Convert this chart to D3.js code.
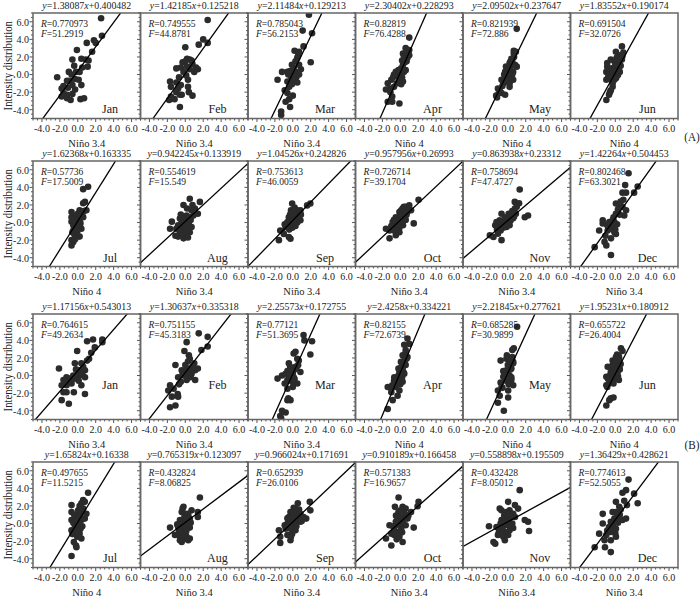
<!DOCTYPE html>
<html><head><meta charset="utf-8">
<script src="https://cdn.jsdelivr.net/npm/d3@7"></script>
<style>body{margin:0;background:#fff}svg{display:block}</style>
</head><body>
<script>
const months = ["Jan","Feb","Mar","Apr","May","Jun","Jul","Aug","Sep","Oct","Nov","Dec"];
const xLabelsA = ["Niño 3.4","Niño 3.4","Niño 3.4","Niño 4","Niño 4","Niño 4","Niño 4","Niño 3.4","Niño 3.4","Niño 3.4","Niño 3.4","Niño 3.4"];
const xLabelsB = ["Niño 3.4","Niño 3.4","Niño 3.4","Niño 4","Niño 4","Niño 4","Niño 4","Niño 3.4","Niño 3.4","Niño 3.4","Niño 3.4","Niño 3.4"];
const slopeA = ["1.38087","1.42185","2.11484","2.30402","2.09502","1.83552","1.62368","0.942245","1.04526","0.957956","0.863938","1.42264"];
const interA = ["0.400482","0.125218","0.129213","0.228293","0.237647","0.190174","0.163335","0.133919","0.242826","0.26993","0.23312","0.504453"];
const rA = ["0.770973","0.749555","0.785043","0.82819","0.821939","0.691504","0.57736","0.554619","0.753613","0.726714","0.758694","0.802468"];
const fA = ["51.2919","44.8781","56.2153","76.4288","72.886","32.0726","17.5009","15.549","46.0059","39.1704","47.4727","63.3021"];
const slopeB = ["1.17156","1.30637","2.25573","2.4258","2.21845","1.95231","1.65824","0.765319","0.966024","0.910189","0.558898","1.36429"];
const interB = ["0.543013","0.335318","0.172755","0.334221","0.277621","0.180912","0.16338","0.123097","0.171691","0.166458","0.195509","0.428621"];
const rB = ["0.764615","0.751155","0.77121","0.82155","0.685285","0.655722","0.497655","0.432824","0.652939","0.571383","0.432428","0.774613"];
const fB = ["49.2634","45.3183","51.3695","72.6739","30.9899","26.4004","11.5215","8.06825","26.0106","16.9657","8.05012","52.5055"];
const xTicks = [-4,-2,0,2,4,6];
const yTicks = [-4,-2,0,2,4,6];

const pointsA = [
 [[2.6,6.4],[2.7,4.4],[1.8,3.9],[2.0,3.6],[1.0,3.6],[1.6,2.6],[-0.1,2.8],[0.4,1.8],[0.9,1.7],[1.2,1.6],[-0.6,1.7],[-0.4,1.0],[1.1,0.9],[0.5,0.8],[0.2,0.3],[-0.2,0.3],[-1.0,0.3],[-0.7,0.0],[-2.3,-0.3],[-1.2,-0.7],[-0.9,-0.7],[-0.3,-0.5],[0.1,-0.6],[-0.6,-1.2],[-1.6,-1.3],[-1.8,-1.6],[-1.1,-1.5],[-0.3,-1.7],[0.4,-1.2],[-1.6,-2.1],[-1.2,-2.3],[-0.6,-2.2],[-1.8,-2.5],[-1.2,-2.7],[-0.8,-2.9],[0.3,-2.8],[0.7,-2.7]],
 [[2.5,6.2],[2.0,4.0],[2.5,3.6],[1.5,3.4],[0.0,3.1],[0.2,1.8],[0.5,1.7],[0.0,1.5],[-0.3,1.4],[0.8,1.2],[1.2,0.8],[1.4,0.6],[-0.5,0.8],[0.2,0.9],[0.5,0.6],[-1.0,0.7],[1.0,0.3],[0.1,-0.1],[-0.7,-0.3],[0.3,-0.6],[-1.7,-0.8],[-1.0,-0.9],[-0.5,-1.2],[-1.6,-1.4],[-0.8,-1.6],[0.3,-1.4],[-1.0,-2.0],[-0.4,-2.3],[0.4,-2.0],[0.8,-2.4],[-1.6,-2.5],[-1.8,-2.9],[-0.6,-2.3],[-0.6,-3.7],[-1.2,-2.8],[0.7,1.6],[-0.2,0.3]],
 [[1.8,6.8],[1.1,5.0],[2.15,4.7],[1.2,3.2],[0.2,2.7],[0.7,2.6],[0.5,1.9],[0.3,1.5],[2.0,1.4],[-0.1,1.1],[0.7,1.1],[-1.2,0.3],[-0.6,0.3],[-0.3,0.4],[0.3,0.3],[0.7,0.0],[-1.7,-0.6],[-0.6,-0.8],[-0.3,-0.8],[0.1,-0.6],[0.5,-0.9],[-0.4,-1.4],[-0.6,-2.1],[-0.4,-2.8],[-0.8,-3.1],[-0.3,-3.7],[-1.3,-4.2],[-1.3,-4.6],[0.1,0.8],[0.4,-0.3],[-0.2,-0.2],[0.9,0.6],[-0.9,-1.8],[0.0,-2.4],[-0.5,0.0],[0.6,2.2],[-0.1,-1.1]],
 [[1.0,4.2],[0.6,3.0],[1.0,2.8],[0.3,2.4],[0.6,2.3],[1.0,2.2],[0.4,2.1],[0.8,1.9],[0.3,1.1],[0.1,0.7],[-0.5,0.3],[0.4,0.3],[0.6,0.5],[-0.7,0.0],[-0.3,-0.2],[-1.0,-0.6],[-0.1,-0.6],[0.3,-0.8],[-1.4,-1.0],[-1.2,-1.6],[-0.7,-1.4],[-1.6,-1.7],[-0.9,-2.5],[-1.4,-3.1],[-0.9,-3.1],[-0.1,-3.3],[0.0,0.0],[-0.2,0.5],[0.2,-0.3],[0.5,1.4],[0.7,1.5],[-0.4,-1.0],[-0.8,-0.3],[0.2,1.6],[-1.1,-2.0],[0.9,2.5],[0.1,-1.1]],
 [[1.0,5.2],[0.67,2.7],[0.67,2.4],[0.5,1.55],[0.2,1.3],[0.8,1.1],[1.0,0.9],[0.04,0.5],[-0.3,0.3],[0.2,0.2],[0.6,0.3],[-0.7,-0.6],[-0.15,-0.4],[0.2,-0.5],[-0.5,-1.0],[0.2,-1.0],[-1.1,-1.6],[-1.0,-2.1],[-0.7,-2.1],[-1.2,-2.6],[-0.3,-2.3],[0.3,0.8],[0.4,1.8],[0.1,-0.1],[-0.4,-0.9],[0.5,0.0],[-0.2,0.9],[0.7,2.0],[-0.6,-1.3],[-0.9,-1.8],[0.0,-0.3],[0.3,1.5],[-0.4,0.0],[0.9,2.6],[-1.3,-2.4],[0.6,-0.6],[0.2,-1.4]],
 [[0.74,3.2],[0.9,2.5],[0.07,2.6],[0.44,2.2],[0.15,1.9],[0.74,1.7],[-0.5,1.7],[-0.1,1.5],[0.4,1.3],[-0.9,0.9],[-0.4,0.7],[0.07,0.7],[0.44,0.9],[-1.0,0.3],[-0.7,0.3],[-0.1,0.1],[0.3,-0.05],[-1.0,-0.6],[-0.4,-0.6],[-0.1,-0.6],[-0.3,-1.4],[-0.5,-1.8],[-0.7,-2.3],[-1.0,-2.9],[0.2,0.4],[-0.6,0.0],[0.6,1.0],[0.0,1.2],[-0.8,-0.3],[0.3,2.0],[-0.2,-0.2],[0.5,0.3],[-0.9,1.3],[-0.3,-1.0],[0.8,2.1],[0.1,-0.4],[-0.6,-2.0]],
 [[1.15,4.07],[0.6,3.8],[0.8,2.35],[0.6,2.2],[-0.7,1.2],[0.2,1.4],[0.96,1.4],[-0.7,0.6],[-0.15,0.8],[0.6,0.6],[-0.7,0.1],[-0.33,-0.1],[0.2,0.3],[-0.3,-0.5],[0.04,-0.3],[-0.5,-0.9],[-0.07,-1.1],[0.4,-0.7],[-0.3,-1.5],[0.2,-1.6],[-0.7,-2.0],[-0.5,-2.2],[-0.7,-2.6],[0.0,0.0],[-0.2,0.5],[0.3,-0.1],[-0.5,-0.3],[0.1,-0.6],[-0.4,-1.3],[0.5,1.0],[-0.6,0.4],[0.3,0.9],[-0.1,-0.9],[0.7,1.3],[-0.3,-1.9],[0.0,1.0],[-0.6,-1.1]],
 [[1.63,2.35],[0.5,2.7],[1.07,1.6],[-0.2,2.0],[0.7,1.4],[1.4,1.0],[-1.5,0.1],[-1.7,-0.7],[-0.6,0.45],[-0.2,0.6],[0.15,0.8],[0.5,0.6],[-0.8,-0.3],[-0.4,-0.5],[-0.04,-0.1],[0.3,-0.3],[0.7,-0.5],[-0.6,-1.1],[-0.2,-0.9],[0.15,-1.3],[0.5,-1.1],[-0.8,-1.6],[-0.2,-1.8],[0.0,-1.6],[-1.1,-1.5],[0.2,1.6],[0.8,2.0],[-0.4,0.2],[0.4,0.0],[-1.0,-0.7],[0.1,-0.7],[-0.3,-1.4],[0.6,0.3],[-0.5,0.9],[0.9,0.8],[0.3,-1.7],[-0.1,0.3]],
 [[1.96,2.16],[1.6,1.95],[-0.07,2.16],[0.5,1.4],[0.1,1.2],[0.85,1.4],[-0.44,0.6],[-0.07,0.45],[0.3,0.8],[0.67,0.8],[-0.6,0.07],[-0.26,-0.1],[0.1,0.07],[0.85,0.26],[-0.8,-0.5],[-0.07,-0.6],[-1.4,-0.9],[-1.0,-1.3],[-1.55,-2.0],[-0.44,-1.65],[-0.26,-1.85],[0.2,1.0],[0.4,0.4],[-0.3,0.9],[0.0,-0.3],[0.5,0.0],[-0.5,-0.3],[0.8,1.1],[-0.2,1.4],[0.3,-0.4],[-0.9,-0.2],[0.6,0.6],[-1.2,-1.0],[0.1,0.3],[-0.4,-0.8],[0.9,0.9],[0.2,1.7]],
 [[2.04,2.6],[1.0,1.97],[0.6,1.8],[0.26,1.6],[-0.1,1.2],[0.44,1.0],[0.8,1.2],[1.2,1.4],[-0.5,0.6],[-0.1,0.6],[0.26,0.45],[-0.85,0.07],[-0.5,-0.1],[0.07,0.07],[1.5,-0.1],[-1.6,-0.7],[-1.2,-0.9],[-0.7,-0.9],[-0.1,-1.1],[-1.2,-1.8],[-0.5,-1.45],[0.4,1.8],[0.0,0.9],[0.6,0.3],[-0.3,0.2],[0.3,-0.3],[-0.2,-0.5],[0.9,1.5],[0.1,1.4],[-0.7,0.3],[0.5,0.7],[-0.4,-0.4],[0.2,0.1],[-1.0,-0.4],[0.7,0.9],[-0.1,-0.6],[0.4,0.4]],
 [[1.33,3.76],[0.78,2.35],[1.26,2.2],[2.26,0.8],[1.9,0.6],[-0.7,1.0],[0.2,0.8],[0.6,1.2],[0.8,1.6],[-1.26,0.07],[-0.9,0.26],[-0.33,0.26],[0.04,0.45],[-1.4,-0.3],[-0.7,-0.3],[-0.15,-0.5],[0.2,-0.3],[-2.0,-1.45],[-1.6,-1.65],[-1.1,-1.27],[-0.7,-2.0],[0.4,0.9],[0.0,-0.1],[-0.5,-0.6],[0.6,0.5],[-1.0,-0.5],[-0.3,0.6],[0.9,1.0],[0.3,0.2],[-0.8,-0.9],[0.1,1.0],[-0.2,-0.2],[0.5,1.3],[-1.2,-0.8],[0.7,0.7],[-0.6,0.0],[1.0,1.8]],
 [[1.48,5.6],[1.1,4.26],[0.8,3.4],[1.2,3.4],[2.5,4.1],[2.1,3.4],[0.07,2.16],[0.44,1.97],[0.8,1.8],[1.2,1.4],[1.0,0.8],[0.07,1.0],[-0.3,0.26],[-0.67,0.07],[-0.1,0.07],[-1.4,0.26],[-1.4,-0.1],[-1.8,-0.9],[-0.85,-0.9],[-0.48,-0.7],[-0.1,-1.1],[0.07,-1.3],[-0.48,-1.8],[-1.2,-2.2],[-1.0,-2.6],[-2.3,-2.8],[-0.48,-3.7],[0.3,1.5],[-0.2,0.6],[0.6,2.4],[0.2,-0.2],[-0.9,-0.3],[0.9,2.6],[-0.4,-0.5],[0.5,0.9],[-1.1,-1.5],[0.0,-0.8]]
];
const pointsB = [
 [[2.74,4.1],[2.74,3.8],[1.7,4.1],[1.04,3.9],[1.9,3.2],[1.5,2.6],[1.26,1.9],[1.04,1.7],[-0.07,2.8],[-0.33,1.4],[0.4,1.4],[0.8,0.6],[0.2,0.6],[-2.1,0.8],[-1.26,-0.2],[-1.6,-0.5],[-0.9,-0.35],[-0.33,-0.35],[0.2,0.0],[0.8,-0.2],[-1.8,-1.1],[-1.26,-1.1],[-0.7,-0.9],[0.4,-1.1],[-1.6,-1.9],[-1.26,-1.9],[-0.44,-1.9],[0.8,-2.1],[-1.8,-2.8],[-1.0,-3.2],[0.0,0.3],[-0.5,0.0],[0.5,0.2],[-1.0,-0.6],[0.1,-0.6],[-0.2,0.7],[0.6,1.0]],
 [[1.5,4.8],[2.5,4.4],[1.8,2.9],[2.5,3.3],[0.15,3.8],[-0.1,2.8],[0.5,1.9],[0.0,1.2],[-1.1,1.2],[-0.4,0.6],[0.0,0.6],[0.5,0.8],[1.1,0.6],[1.4,0.8],[-0.8,-0.2],[-0.2,0.0],[0.3,0.0],[0.7,0.2],[0.15,-0.5],[1.1,-0.5],[-1.7,-1.1],[-1.3,-1.5],[-1.9,-1.7],[-1.5,-2.4],[-0.85,-2.1],[-0.8,-2.4],[-1.7,-3.6],[-1.1,-3.4],[0.3,1.6],[0.8,1.0],[-0.3,0.2],[0.6,-0.2],[-0.5,-0.7],[0.2,0.4],[1.0,1.4],[-0.7,-1.0],[0.4,2.3]],
 [[1.2,4.6],[1.3,4.0],[2.15,3.9],[1.96,2.4],[0.3,2.7],[0.1,2.5],[0.5,1.9],[0.67,1.7],[-0.44,1.4],[0.3,1.0],[0.1,0.6],[0.85,0.4],[-1.7,-0.35],[-1.2,0.0],[-0.8,0.2],[-0.26,0.0],[0.1,-0.2],[-0.6,-0.5],[-0.07,-0.7],[0.5,-0.9],[-0.6,-1.5],[-0.5,-2.6],[-0.26,-2.8],[-0.6,-2.8],[-1.2,-4.0],[-0.8,-4.2],[-1.4,-4.6],[-1.3,-4.85],[0.0,0.3],[-0.4,-0.1],[0.4,0.8],[-0.3,1.0],[0.2,-0.4],[0.6,1.2],[-0.9,-0.9],[0.0,-1.3],[-0.6,0.5]],
 [[0.8,4.2],[1.0,3.6],[0.44,3.5],[0.6,2.9],[0.26,2.3],[0.8,2.1],[0.44,1.7],[0.07,1.55],[0.6,1.2],[0.26,0.6],[-0.1,0.4],[0.44,0.2],[-0.67,-0.2],[-0.5,-0.35],[0.07,-0.35],[0.26,-0.7],[-1.4,-1.3],[-1.0,-1.5],[-0.5,-1.3],[-0.1,-1.7],[-1.0,-1.9],[-0.3,-2.3],[-0.85,-2.8],[-1.4,-3.8],[0.3,1.0],[0.6,2.6],[-0.2,0.0],[0.1,0.9],[-0.4,-0.9],[0.4,0.3],[-0.7,-0.6],[0.0,-1.0],[0.7,1.9],[-0.2,0.8],[0.2,-0.2],[-0.9,-1.1],[0.5,1.4]],
 [[1.04,5.55],[0.5,2.9],[0.67,3.1],[-0.8,1.7],[-0.15,1.9],[0.2,1.75],[0.6,1.55],[0.15,1.0],[-0.15,0.6],[0.4,0.8],[-0.33,0.2],[-0.5,-0.15],[0.04,-0.35],[0.4,-0.5],[0.6,-1.1],[-0.7,-1.3],[-1.1,-1.7],[0.04,-1.7],[-1.1,-3.1],[0.04,-2.5],[-0.44,-4.0],[0.0,0.3],[0.3,1.3],[-0.2,-0.6],[0.2,0.0],[-0.5,0.5],[0.5,2.1],[-0.8,-0.8],[0.1,-1.0],[0.3,0.7],[-0.3,-0.2],[0.6,1.4],[-0.6,-1.4],[0.0,1.2],[0.4,-0.2],[-0.1,2.3],[-0.9,-2.3]],
 [[0.63,3.1],[0.8,2.8],[0.07,2.1],[0.44,1.9],[-0.3,1.7],[0.26,1.55],[-0.85,1.0],[-0.3,1.2],[0.07,1.0],[0.44,1.0],[-0.5,0.4],[-0.1,0.2],[0.26,0.4],[-1.0,-0.15],[-0.5,-0.35],[0.07,-0.35],[0.4,-0.5],[-1.0,-1.1],[-0.67,-0.9],[-0.3,-0.7],[-0.5,-2.6],[-0.2,-2.5],[-0.67,-2.8],[-1.0,-3.4],[0.2,2.4],[-0.1,1.4],[0.5,0.7],[-0.6,0.0],[0.0,0.7],[-0.8,-0.4],[0.3,-0.1],[-0.4,1.0],[0.6,1.3],[-0.2,-0.9],[-0.9,-1.3],[0.1,0.0],[0.4,2.2]],
 [[1.15,3.5],[0.6,2.66],[0.78,2.47],[0.4,2.3],[-0.7,2.1],[-0.7,1.3],[0.04,1.5],[0.4,1.3],[0.96,1.1],[-0.7,0.4],[-0.15,0.56],[0.4,0.4],[0.78,0.56],[-0.33,-0.2],[0.2,0.0],[0.04,-0.6],[-0.7,-0.77],[-0.33,-0.96],[0.2,-1.15],[-0.07,-1.5],[0.4,-1.7],[-0.44,-2.1],[-0.2,-2.5],[-0.15,-2.7],[-0.7,-3.7],[0.0,0.9],[-0.5,0.1],[0.3,0.7],[-0.2,-0.3],[0.6,1.7],[0.1,-0.8],[-0.4,1.0],[0.5,-0.3],[-0.1,0.3],[0.2,2.0],[-0.6,-1.2],[0.3,-0.6]],
 [[1.63,2.96],[0.7,1.5],[1.4,1.3],[1.4,0.75],[-0.3,1.7],[-0.4,1.3],[0.0,1.1],[0.33,0.9],[-1.7,-0.46],[-0.6,0.4],[-0.2,0.2],[0.15,0.4],[0.5,0.56],[-0.8,-0.4],[-0.4,-0.6],[0.0,-0.4],[0.5,-0.46],[-1.15,-1.3],[-0.6,-1.5],[-0.2,-1.3],[0.15,-1.5],[0.5,-1.7],[-0.4,-2.1],[-0.6,-1.9],[0.33,-1.9],[-0.1,0.7],[0.2,-0.1],[-0.5,0.0],[0.4,0.2],[-0.3,-1.0],[0.1,-0.9],[-0.7,-0.9],[0.6,0.1],[-0.2,1.9],[0.0,-1.7],[0.3,1.1],[-0.9,-0.1]],
 [[1.9,2.47],[1.96,1.5],[1.5,0.56],[0.56,2.3],[-0.26,1.3],[0.1,1.3],[0.5,1.3],[0.85,1.1],[-0.44,0.75],[0.0,0.7],[0.67,0.56],[1.2,0.75],[-0.6,0.0],[-0.26,0.2],[0.3,0.0],[0.85,0.2],[-1.55,-0.77],[-0.8,-0.6],[-0.26,-0.6],[0.3,-0.77],[-1.4,-1.5],[-0.6,-1.3],[-0.07,-1.15],[-1.4,-2.2],[-0.26,-1.9],[0.2,0.4],[-0.1,-0.2],[0.5,0.9],[-0.4,-0.3],[0.7,1.6],[-0.9,-0.2],[0.1,1.8],[0.4,-0.3],[-0.6,0.6],[1.0,0.3],[-0.2,-1.5],[0.3,1.7]],
 [[-0.19,2.96],[2.04,2.47],[1.93,1.97],[-0.6,1.9],[0.26,1.9],[0.6,1.7],[1.2,1.3],[-0.48,0.9],[-0.1,0.75],[0.44,0.9],[0.8,0.56],[-1.2,-0.2],[-0.48,-0.2],[0.07,0.0],[0.6,-0.2],[1.5,-0.46],[-1.6,-1.7],[-1.0,-1.15],[-0.67,-1.3],[-0.3,-0.96],[-0.1,-1.5],[-1.0,-2.5],[0.26,-2.1],[0.0,0.3],[-0.3,0.5],[0.3,0.2],[-0.7,-0.6],[0.5,1.1],[0.1,-0.6],[-0.5,0.2],[0.9,0.9],[-0.2,1.3],[0.2,-1.0],[-0.8,-0.3],[0.4,0.6],[0.0,1.5],[-0.4,-1.8]],
 [[1.33,3.8],[0.04,2.47],[-0.9,1.7],[-0.7,1.5],[0.8,2.1],[1.15,1.7],[-0.15,1.3],[0.2,1.5],[0.6,1.1],[-0.7,0.4],[-0.33,0.56],[0.2,0.56],[0.8,0.75],[-2.1,-0.3],[-1.26,-0.4],[-0.5,-0.3],[0.04,-0.2],[1.9,0.4],[2.26,0.2],[2.37,-0.85],[-0.9,-0.77],[-0.33,-0.96],[0.2,-0.77],[-1.1,-1.3],[-0.5,-1.5],[0.04,-1.3],[-1.6,-2.1],[-1.4,-2.3],[-0.33,-1.9],[-0.1,0.2],[0.5,0.0],[-0.8,0.0],[0.3,-0.4],[-0.4,0.9],[0.1,1.0],[-1.0,-1.0],[0.6,-0.5]],
 [[1.48,5.0],[1.2,3.8],[0.8,3.5],[2.1,3.4],[2.5,2.3],[1.3,2.1],[0.07,2.47],[0.44,1.9],[-0.3,1.3],[0.07,1.3],[-1.4,1.1],[-1.4,0.0],[-0.5,0.2],[-0.1,0.56],[0.44,0.56],[0.8,0.4],[1.2,0.56],[-0.3,-0.4],[0.07,-0.6],[-1.8,-1.15],[-1.0,-1.3],[-0.5,-0.96],[0.07,-1.5],[-1.2,-1.9],[-0.5,-1.9],[-2.3,-2.7],[-1.15,-2.7],[-0.5,-3.25],[0.2,0.9],[-0.2,0.0],[0.6,1.6],[-0.7,-0.4],[0.3,0.1],[-0.9,-0.8],[1.0,2.6],[0.0,-1.1],[0.5,1.0]]
];

const W = 700, H = 599;
const FONT = "'Liberation Serif','Times New Roman',Tinos,Times,serif";
const svg = d3.select("body").append("svg").attr("width", W).attr("height", H)
  .attr("font-family", FONT).style("font-family", FONT);

// calibrate: the reference equation string is about 90px wide
const probe = svg.append("text").attr("font-size", 10.6).attr("x", -999).attr("y", -999).text("y=1.38087x+0.400482");
const measured = probe.node().getComputedTextLength() || 90;
probe.remove();
const hf = measured > 100 ? 0.9 : 1.0;
const sx = Math.max(0.6, Math.min(1.05, 90 / (measured * hf)));
const ink = "#222";

function addText(parent, px, py, size, anchor, parts, rotate) {
  const t = parent.append("text")
    .attr("transform", `translate(${px},${py})${rotate ? " rotate(" + rotate + ")" : ""} scale(${sx},1)`)
    .attr("text-anchor", anchor).attr("font-size", size * hf).attr("fill", ink);
  parts.forEach(pt => {
    const s = t.append("tspan").text(pt[0]);
    if (pt[1]) s.attr("font-style", "italic");
  });
  return t;
}

const left0 = 33, pw = 107.5, ph = 105.5;
const rowTops = [13, 161, 314, 462];
const monthDy = [95, 96, 70, 95];

const x = d3.scaleLinear().domain([-5, 7]).range([0, pw]);
const y = d3.scaleLinear().domain([-5, 7]).range([ph, 0]);
const minorX = d3.range(-5, 7.01, 0.5);
const minorY = d3.range(-5, 7.01, 0.5);
const fmt = d => d.toFixed(1);

const panels = [];
for (let r = 0; r < 4; r++) {
  for (let c = 0; c < 6; c++) {
    const isA = r < 2;
    const mi = (r % 2) * 6 + c;
    panels.push({
      r, c, mi,
      month: months[mi],
      xl: isA ? xLabelsA[mi] : xLabelsB[mi],
      a: isA ? slopeA[mi] : slopeB[mi],
      b: isA ? interA[mi] : interB[mi],
      R: isA ? rA[mi] : rB[mi],
      F: isA ? fA[mi] : fB[mi],
      pts: isA ? pointsA[mi] : pointsB[mi]
    });
  }
}

const defs = svg.append("defs");
panels.forEach((p, i) => {
  defs.append("clipPath").attr("id", "clip" + i)
    .append("rect").attr("x", 0).attr("y", 0).attr("width", pw).attr("height", ph);
});

panels.forEach((p, i) => {
  const g = svg.append("g").attr("transform", `translate(${left0 + p.c * pw},${rowTops[p.r]})`);
  const plot = g.append("g").attr("clip-path", `url(#clip${i})`);
  plot.selectAll("circle").data(p.pts).join("circle")
    .attr("cx", d => x(d[0])).attr("cy", d => y(d[1])).attr("r", 3.3).attr("fill", "#2b2b2b");
  const a = +p.a, b = +p.b;
  plot.append("line")
    .attr("x1", x(-5)).attr("y1", y(a * -5 + b))
    .attr("x2", x(7)).attr("y2", y(a * 7 + b))
    .attr("stroke", "#000").attr("stroke-width", 1.3);

  g.selectAll(".ymin").data(minorY).join("line")
    .attr("x1", d => (Math.abs(d % 2) < 1e-6 ? -3.5 : -2)).attr("x2", 0)
    .attr("y1", d => y(d)).attr("y2", d => y(d)).attr("stroke", "#444").attr("stroke-width", 0.9);
  g.selectAll(".xmin").data(minorX).join("line")
    .attr("y1", ph).attr("y2", d => ph + (Math.abs(d % 2) < 1e-6 ? 3.5 : 2))
    .attr("x1", d => x(d)).attr("x2", d => x(d)).attr("stroke", "#444").attr("stroke-width", 0.9);

  g.append("rect").attr("x", 0).attr("y", 0).attr("width", pw).attr("height", ph)
    .attr("fill", "none").attr("stroke", "#666").attr("stroke-width", 1.5);

  xTicks.forEach(d => addText(g, x(d), ph + 13.5, 10.8, "middle", [[fmt(d)]]));
  addText(g, pw / 2, ph + 28, 11.3, "middle", [[p.xl]]);

  if (p.c === 0) {
    yTicks.forEach(d => addText(g, -4, y(d) + 3.8, 10.8, "end", [[fmt(d)]]));
    addText(g, -21, ph / 2, 11.5, "middle", [["Intensity distribution"]], -90);
  }

  addText(g, pw / 2, -4, 10.6, "middle", [["y", true], ["=" + p.a], ["x", true], ["+" + p.b]]);
  addText(g, 8, 13.5, 10.3, "start", [["R", true], ["=" + p.R]]);
  addText(g, 8, 24, 10.3, "start", [["F", true], ["=" + p.F]]);
  addText(g, 77, monthDy[p.r] + 4.5, 13, "middle", [[p.month]]);
});

addText(svg, 692, 141, 12, "middle", [["(A)"]]);
addText(svg, 692, 449, 12, "middle", [["(B)"]]);
</script>
</body></html>
